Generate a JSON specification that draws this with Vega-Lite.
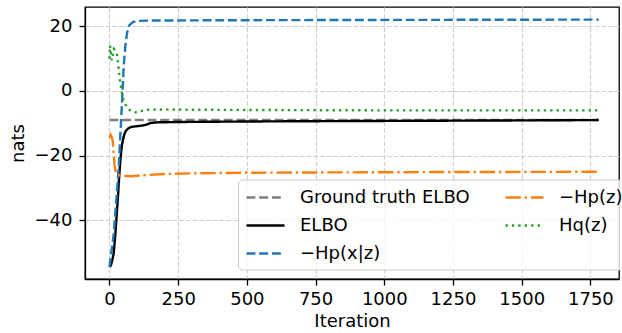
{
  "$schema": "https://vega.github.io/schema/vega-lite/v6.json",
  "width": 534,
  "height": 272,
  "autosize": "none",
  "padding": {"left": 85, "top": 7, "right": 3, "bottom": 54},
  "background": "white",
  "config": {
    "font": "DejaVu Sans",
    "view": {"stroke": "black", "strokeWidth": 1.3},
    "axis": {
      "labelFont": "DejaVu Sans", "titleFont": "DejaVu Sans",
      "labelFontSize": 18, "titleFontSize": 18,
      "labelColor": "black", "titleColor": "black",
      "titleFontWeight": "normal",
      "domainColor": "black", "domainWidth": 1.3, "tickColor": "black", "tickSize": 6, "tickWidth": 1.3,
      "gridColor": "#d0d0d0", "gridDash": [4.7, 2], "gridWidth": 1.2,
      "labelPadding": 5
    }
  },
  "data": {"values": [
    {"s": "Ground truth ELBO", "x": 0, "y": -9.0},
    {"s": "Ground truth ELBO", "x": 1780, "y": -9.0},

    {"s": "ELBO", "x": 0, "y": -54.5},
    {"s": "ELBO", "x": 5, "y": -54},
    {"s": "ELBO", "x": 10, "y": -52.5},
    {"s": "ELBO", "x": 15, "y": -50.5},
    {"s": "ELBO", "x": 20, "y": -46},
    {"s": "ELBO", "x": 25, "y": -40},
    {"s": "ELBO", "x": 30, "y": -34},
    {"s": "ELBO", "x": 35, "y": -27},
    {"s": "ELBO", "x": 40, "y": -21},
    {"s": "ELBO", "x": 45, "y": -17},
    {"s": "ELBO", "x": 50, "y": -14.8},
    {"s": "ELBO", "x": 55, "y": -13.2},
    {"s": "ELBO", "x": 60, "y": -12.3},
    {"s": "ELBO", "x": 70, "y": -11.5},
    {"s": "ELBO", "x": 80, "y": -11.1},
    {"s": "ELBO", "x": 100, "y": -10.9},
    {"s": "ELBO", "x": 120, "y": -10.7},
    {"s": "ELBO", "x": 135, "y": -10.4},
    {"s": "ELBO", "x": 150, "y": -9.9},
    {"s": "ELBO", "x": 175, "y": -9.7},
    {"s": "ELBO", "x": 250, "y": -9.6},
    {"s": "ELBO", "x": 400, "y": -9.5},
    {"s": "ELBO", "x": 600, "y": -9.4},
    {"s": "ELBO", "x": 900, "y": -9.3},
    {"s": "ELBO", "x": 1200, "y": -9.2},
    {"s": "ELBO", "x": 1500, "y": -9.1},
    {"s": "ELBO", "x": 1780, "y": -9.0},

    {"s": "−Hp(x|z)", "x": 0, "y": -54.5},
    {"s": "−Hp(x|z)", "x": 5, "y": -51},
    {"s": "−Hp(x|z)", "x": 10, "y": -48},
    {"s": "−Hp(x|z)", "x": 16, "y": -44},
    {"s": "−Hp(x|z)", "x": 22, "y": -37},
    {"s": "−Hp(x|z)", "x": 28, "y": -30},
    {"s": "−Hp(x|z)", "x": 34, "y": -23},
    {"s": "−Hp(x|z)", "x": 40, "y": -13},
    {"s": "−Hp(x|z)", "x": 46, "y": -3},
    {"s": "−Hp(x|z)", "x": 52, "y": 8},
    {"s": "−Hp(x|z)", "x": 58, "y": 14},
    {"s": "−Hp(x|z)", "x": 64, "y": 18},
    {"s": "−Hp(x|z)", "x": 72, "y": 20.3},
    {"s": "−Hp(x|z)", "x": 85, "y": 21.3},
    {"s": "−Hp(x|z)", "x": 100, "y": 21.7},
    {"s": "−Hp(x|z)", "x": 150, "y": 21.8},
    {"s": "−Hp(x|z)", "x": 400, "y": 21.9},
    {"s": "−Hp(x|z)", "x": 1000, "y": 22.0},
    {"s": "−Hp(x|z)", "x": 1780, "y": 22.1},

    {"s": "−Hp(z)", "x": 0, "y": -14.5},
    {"s": "−Hp(z)", "x": 4, "y": -13.6},
    {"s": "−Hp(z)", "x": 8, "y": -14.2},
    {"s": "−Hp(z)", "x": 12, "y": -15.5},
    {"s": "−Hp(z)", "x": 15, "y": -19},
    {"s": "−Hp(z)", "x": 18, "y": -22.5},
    {"s": "−Hp(z)", "x": 22, "y": -24.8},
    {"s": "−Hp(z)", "x": 28, "y": -25.8},
    {"s": "−Hp(z)", "x": 40, "y": -26.2},
    {"s": "−Hp(z)", "x": 80, "y": -26.4},
    {"s": "−Hp(z)", "x": 120, "y": -26.1},
    {"s": "−Hp(z)", "x": 200, "y": -25.7},
    {"s": "−Hp(z)", "x": 300, "y": -25.5},
    {"s": "−Hp(z)", "x": 500, "y": -25.3},
    {"s": "−Hp(z)", "x": 800, "y": -25.2},
    {"s": "−Hp(z)", "x": 1200, "y": -25.1},
    {"s": "−Hp(z)", "x": 1780, "y": -25.0},

    {"s": "Hq(z)", "x": 0, "y": 10},
    {"s": "Hq(z)", "x": 2, "y": 14},
    {"s": "Hq(z)", "x": 5, "y": 12.5},
    {"s": "Hq(z)", "x": 8, "y": 9.5},
    {"s": "Hq(z)", "x": 12, "y": 11},
    {"s": "Hq(z)", "x": 16, "y": 13},
    {"s": "Hq(z)", "x": 22, "y": 12.5},
    {"s": "Hq(z)", "x": 28, "y": 11},
    {"s": "Hq(z)", "x": 33, "y": 7},
    {"s": "Hq(z)", "x": 38, "y": 3.5},
    {"s": "Hq(z)", "x": 44, "y": 0},
    {"s": "Hq(z)", "x": 50, "y": -2.5},
    {"s": "Hq(z)", "x": 58, "y": -4.2},
    {"s": "Hq(z)", "x": 68, "y": -5.5},
    {"s": "Hq(z)", "x": 80, "y": -6.3},
    {"s": "Hq(z)", "x": 95, "y": -6.6},
    {"s": "Hq(z)", "x": 110, "y": -6.3},
    {"s": "Hq(z)", "x": 140, "y": -5.8},
    {"s": "Hq(z)", "x": 200, "y": -5.7},
    {"s": "Hq(z)", "x": 300, "y": -5.8},
    {"s": "Hq(z)", "x": 600, "y": -5.9},
    {"s": "Hq(z)", "x": 1000, "y": -6.0},
    {"s": "Hq(z)", "x": 1780, "y": -6.0}
  ]},
  "encoding": {
    "x": {"field": "x", "type": "quantitative", "title": "Iteration",
          "scale": {"domain": [-89, 1854], "nice": false, "zero": false},
          "axis": {"values": [0, 250, 500, 750, 1000, 1250, 1500, 1750], "format": "d", "titlePadding": 4}},
    "y": {"field": "y", "type": "quantitative", "title": "nats",
          "scale": {"domain": [-58.2, 26], "nice": false, "zero": false},
          "axis": {"values": [-40, -20, 0, 20], "labelPadding": 7, "titlePadding": 7}},
    "color": {"field": "s", "type": "nominal",
      "scale": {"domain": ["Ground truth ELBO", "ELBO", "−Hp(x|z)", "−Hp(z)", "Hq(z)"],
                "range": ["#7f7f7f", "#000000", "#1f77b4", "#ff7f0e", "#2ca02c"]},
      "legend": {"title": null, "orient": "none", "legendX": 153, "legendY": 172.5,
        "columns": 2, "symbolType": "M-1,0H3", "symbolSize": 361, "symbolStrokeWidth": 2.4,
        "labelFont": "DejaVu Sans", "labelFontSize": 18, "labelColor": "black", "labelOffset": 33,
        "columnPadding": 30, "rowPadding": 8, "padding": 7,
        "fillColor": "rgba(255,255,255,0.8)", "strokeColor": "#cccccc", "cornerRadius": 4, "labelLimit": 300}},
    "strokeDash": {"field": "s", "type": "nominal",
      "scale": {"domain": ["Ground truth ELBO", "ELBO", "−Hp(x|z)", "−Hp(z)", "Hq(z)"],
                "range": [[8.9, 3.8], [1, 0], [8.9, 3.8], [15.4, 3.8, 2.4, 3.8], [2.4, 4]]},
      "legend": null}
  },
  "layer": [
    {"transform": [{"filter": "datum.s === 'Ground truth ELBO'"}], "mark": {"type": "line", "strokeWidth": 2.4}},
    {"transform": [{"filter": "datum.s === 'ELBO'"}], "mark": {"type": "line", "strokeWidth": 2.4}},
    {"transform": [{"filter": "datum.s === '−Hp(x|z)'"}], "mark": {"type": "line", "strokeWidth": 2.4}},
    {"transform": [{"filter": "datum.s === '−Hp(z)'"}], "mark": {"type": "line", "strokeWidth": 2.4}},
    {"transform": [{"filter": "datum.s === 'Hq(z)'"}], "mark": {"type": "line", "strokeWidth": 2.4}}
  ]
}
